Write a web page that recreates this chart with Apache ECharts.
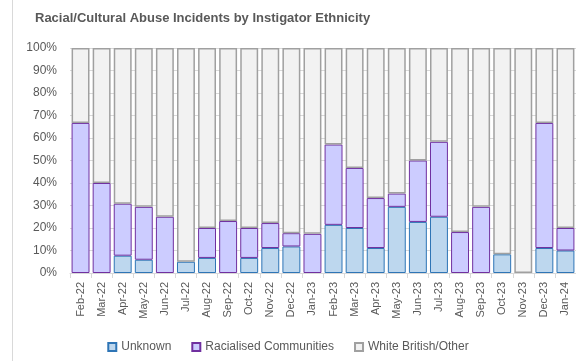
<!DOCTYPE html>
<html>
<head>
<meta charset="utf-8">
<script src="https://cdn.jsdelivr.net/npm/echarts@6/dist/echarts.min.js"></script>
<style>
  html, body { margin: 0; padding: 0; background: #fff; }
  #chart { width: 576px; height: 361px; }
</style>
</head>
<body>
<div id="chart"></div>
<script>
var months = ['Feb-22', 'Mar-22', 'Apr-22', 'May-22', 'Jun-22', 'Jul-22', 'Aug-22', 'Sep-22',
  'Oct-22', 'Nov-22', 'Dec-22', 'Jan-23', 'Feb-23', 'Mar-23', 'Apr-23', 'May-23', 'Jun-23',
  'Jul-23', 'Aug-23', 'Sep-23', 'Oct-23', 'Nov-23', 'Dec-23', 'Jan-24']

// percentages of incidents per month
var unknown = [0, 0, 7.7, 5.9, 0, 5, 6.7, 0, 6.7, 11.1, 11.8, 0, 21.4, 20, 11.1, 29.4, 22.7,
  25, 0, 0, 8.3, 0, 11.1, 10]
var racialised = [66.7, 40, 23.1, 23.5, 25, 0, 13.3, 23.1, 13.3, 11.1, 5.9, 17.4, 35.7, 26.7,
  22.2, 5.9, 27.3, 33.3, 18.2, 29.4, 0, 0, 55.6, 10]
var whiteOther = months.map(function (m, i) {
  return Math.round((100 - unknown[i] - racialised[i]) * 10) / 10
})

// empty segments should not draw a border line
function noZero(arr) {
  return arr.map(function (v) { return v === 0 ? '-' : v })
}

var font = "'Liberation Sans', sans-serif"

var chart = echarts.init(document.getElementById('chart'))
var option = {
  animation: false,
  textStyle: { fontFamily: font },
  title: {
    text: 'Racial/Cultural Abuse Incidents by Instigator Ethnicity',
    left: 30,
    top: 7,
    textStyle: { fontFamily: font, fontSize: 13, fontWeight: 'bold', color: '#595959' }
  },
  graphic: [{
    type: 'line',
    shape: { x1: 12.5, y1: 0, x2: 12.5, y2: 361 },
    style: { stroke: '#d9d9d9', lineWidth: 1 }
  }],
  legend: {
    bottom: 3,
    left: 'center',
    icon: 'rect',
    itemWidth: 8,
    itemHeight: 8,
    itemGap: 20,
    textStyle: { fontFamily: font, fontSize: 12, color: '#595959' },
    data: ['Unknown', 'Racialised Communities', 'White British/Other']
  },
  grid: { left: 70, top: 48, width: 509, bottom: 88 },
  xAxis: {
    type: 'category',
    data: months,
    axisLine: { lineStyle: { color: '#d9d9d9' } },
    axisTick: { show: true, length: 5, lineStyle: { color: '#d9d9d9' } },
    axisLabel: { rotate: 90, margin: 9, fontSize: 11, color: '#595959', fontFamily: font }
  },
  yAxis: {
    type: 'value',
    min: 0,
    max: 100,
    interval: 10,
    axisLabel: { formatter: '{value}%', fontSize: 12, color: '#595959', margin: 13, fontFamily: font },
    splitLine: { lineStyle: { color: '#d9d9d9' } },
    axisLine: { show: false },
    axisTick: { show: false }
  },
  series: [
    {
      name: 'Unknown', type: 'bar', stack: 'all', data: noZero(unknown),
      barCategoryGap: '15%',
      itemStyle: { color: '#bdd7ee', borderColor: '#2e75b6', borderWidth: 1 }
    },
    {
      name: 'Racialised Communities', type: 'bar', stack: 'all', data: noZero(racialised),
      itemStyle: { color: '#ccccff', borderColor: '#7030a0', borderWidth: 1 }
    },
    {
      name: 'White British/Other', type: 'bar', stack: 'all', data: noZero(whiteOther),
      itemStyle: { color: '#f2f2f2', borderColor: '#a0a0a0', borderWidth: 1.5 }
    }
  ]
}
chart.setOption(option)
</script>
</body>
</html>
